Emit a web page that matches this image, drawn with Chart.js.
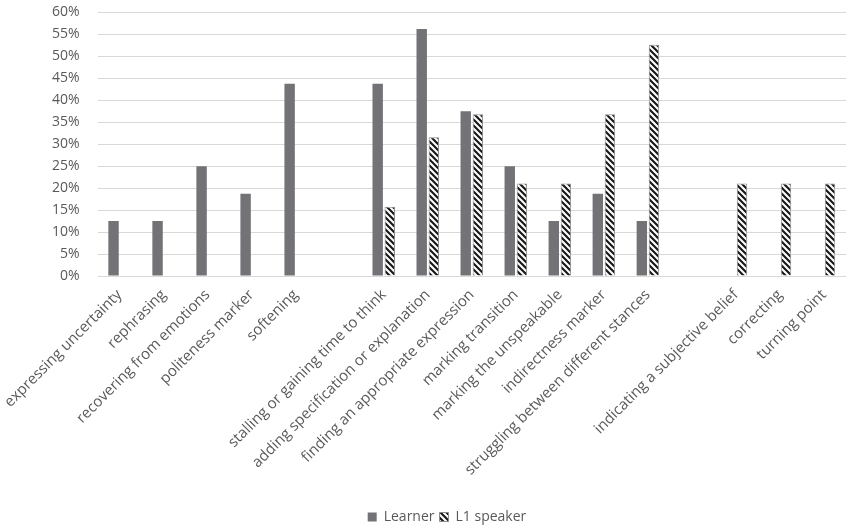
<!DOCTYPE html>
<html>
<head>
<meta charset="utf-8">
<script src="https://cdn.jsdelivr.net/npm/chart.js@4"></script>
<style>
  html, body { margin: 0; padding: 0; background: #fff; }
  #wrap { width: 846px; height: 528px; }
</style>
</head>
<body>
<div id="wrap"><canvas id="grafica" width="846" height="528"></canvas></div>
<script>
// categorias (las vacias dejan el hueco entre grupos)
const categorias = [
    'expressing uncertainty', 'rephrasing', 'recovering from emotions', 'politeness marker', 'softening',
    '',
    'stalling or gaining time to think', 'adding specification or explanation', 'finding an appropriate expression',
    'marking transition', 'marking the unspeakable', 'indirectness marker', 'struggling between different stances',
    '',
    'indicating a subjective belief', 'correcting', 'turning point'
];
const learner = [12.5, 12.5, 25, 18.75, 43.75, null, 43.75, 56.25, 37.5, 25, 12.5, 18.75, 12.5, null, null, null, null];
const l1Speaker = [null, null, null, null, null, null, 15.79, 31.58, 36.84, 21.05, 21.05, 36.84, 52.63, null, 21.05, 21.05, 21.05];
const ticksY = [0, 5, 10, 15, 20, 25, 30, 35, 40, 45, 50, 55, 60];

function patronRayas() {
    const c = document.createElement('canvas');
    c.width = 6; c.height = 6;
    const g = c.getContext('2d');
    g.fillStyle = '#ffffff';
    g.fillRect(0, 0, 6, 6);
    g.strokeStyle = '#1a1a1a';
    g.lineWidth = 2.2;
    g.beginPath();
    g.moveTo(-1, -1); g.lineTo(7, 7);
    g.moveTo(-4, 2); g.lineTo(4, 10);
    g.moveTo(2, -4); g.lineTo(10, 4);
    g.stroke();
    return g.createPattern(c, 'repeat');
}

const rayas = patronRayas();
const gris = '#595959';
const fuente = "'Open Sans', 'Liberation Sans', sans-serif";

new Chart(document.getElementById('grafica').getContext('2d'), {
    type: 'bar',
    data: {
        labels: categorias,
        datasets: [{
            label: 'Learner',
            data: learner,
            backgroundColor: '#737276',
            borderWidth: 0
        }, {
            label: 'L1 speaker',
            data: l1Speaker,
            backgroundColor: rayas,
            borderColor: '#8c8c8c',
            borderWidth: 1
        }]
    },
    options: {
        responsive: false,
        animation: false,
        categoryPercentage: 0.55,
        barPercentage: 0.86,
        layout: { padding: { top: 0, right: 0, left: 48, bottom: -6 } },
        plugins: {
            tooltip: { enabled: false },
            legend: {
                position: 'bottom',
                labels: {
                    color: gris,
                    font: { family: fuente, size: 14 },
                    boxWidth: 9,
                    boxHeight: 9,
                    padding: 5
                }
            }
        },
        scales: {
            x: {
                grid: { display: false },
                border: { display: false },
                afterFit: axis => { axis.height = 229; },
                ticks: {
                    color: gris,
                    font: { family: fuente, size: 15 },
                    minRotation: 45,
                    maxRotation: 45,
                    autoSkip: false,
                    padding: 2
                }
            },
            y: {
                min: 0,
                max: 60,
                afterBuildTicks: axis => { axis.ticks = ticksY.map(v => ({ value: v })); },
                grid: { color: '#d9d9d9', lineWidth: 1, drawTicks: false },
                border: { display: false },
                ticks: {
                    color: gris,
                    font: { family: fuente, size: 14 },
                    padding: 4,
                    // espacio final para separar las etiquetas del area
                    callback: v => v + '%\u2003'
                }
            }
        }
    }
});
</script>
</body>
</html>
